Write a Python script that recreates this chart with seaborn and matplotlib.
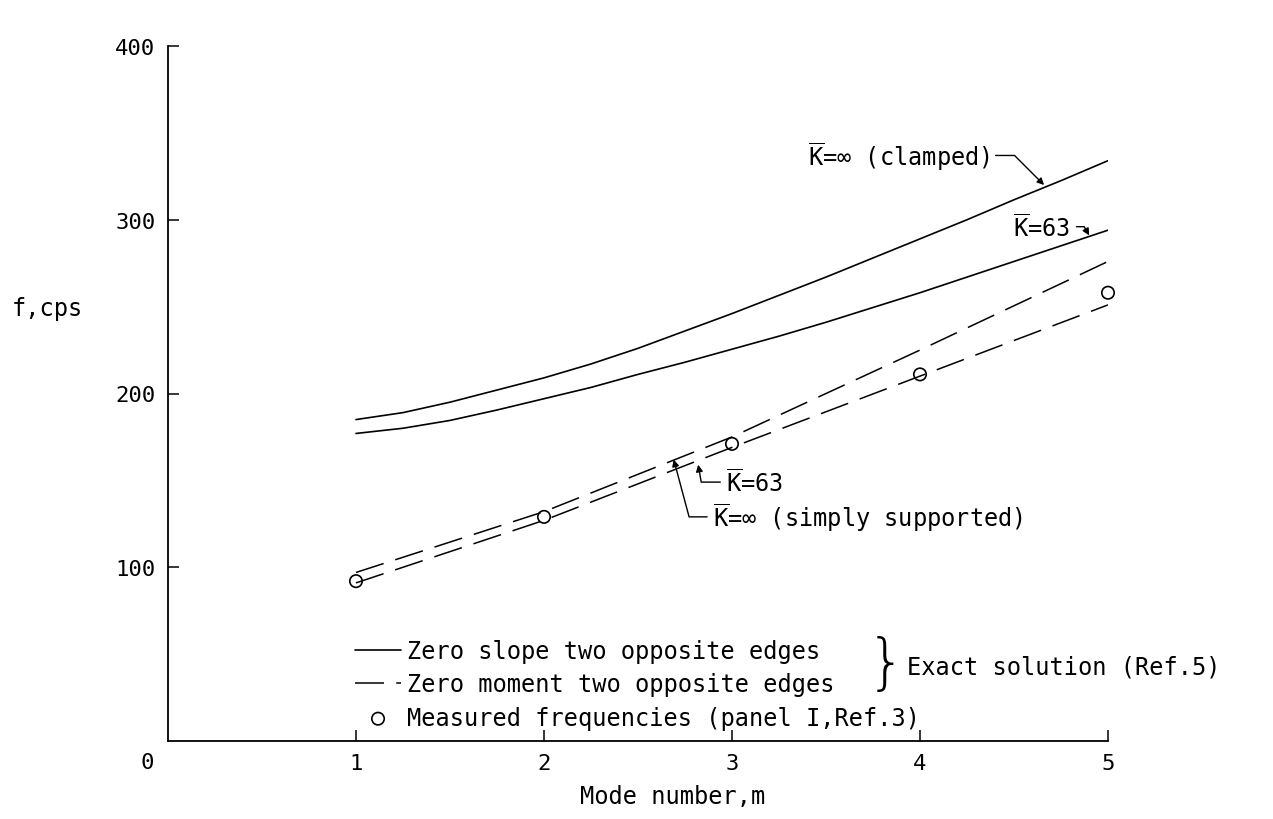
import numpy as np
import pandas as pd
import seaborn as sns
import matplotlib.pyplot as plt

# mode numbers and frequencies (cps)
mode_solid = [1, 1.25, 1.5, 1.75, 2, 2.25, 2.5, 2.75, 3, 3.25, 3.5, 3.75, 4, 4.25, 4.5, 4.75, 5]
f_clamped = [185, 189, 195, 202, 209, 217, 226, 236, 246, 256.5, 267, 278, 289, 300, 311.5, 322.5, 334]
f_slope_k63 = [177, 180, 184.5, 190.5, 197, 203.5, 211, 218, 225.5, 233, 241, 249.5, 258, 267, 276, 285, 294]

mode = [1, 2, 3, 4, 5]
f_simply = [97, 132, 175, 225, 276]
f_moment_k63 = [91, 127, 169, 210, 251]
f_measured = [92, 129, 171, 211, 258]

x_ticks = [1, 2, 3, 4, 5]
y_ticks = [100, 200, 300, 400]

sns.set_style('ticks')
plt.rcParams['font.family'] = ['DejaVu Sans Mono', 'DejaVu Sans']
plt.rcParams['mathtext.fontset'] = 'custom'
plt.rcParams['mathtext.rm'] = 'DejaVu Sans Mono'
for k in ['text.color', 'axes.labelcolor', 'xtick.color', 'ytick.color']:
    plt.rcParams[k] = 'black'
FS = 17

fig = plt.figure(figsize=(12.73, 8.2), dpi=100)
ax = fig.add_axes([168/1273, 1-742/820, (1108-168)/1273, (742-47)/820])

solid = dict(color='black', linewidth=1.2)
dash = dict(color='black', linewidth=1.1, linestyle=(0, (19, 8)))

sns.lineplot(x=mode_solid, y=f_clamped, ax=ax, label='Zero slope two opposite edges', **solid)
sns.lineplot(x=mode_solid, y=f_slope_k63, ax=ax, **solid)
sns.lineplot(x=mode, y=f_simply, ax=ax, label='Zero moment two opposite edges', **dash)
sns.lineplot(x=mode, y=f_moment_k63, ax=ax, **dash)
sns.scatterplot(x=mode, y=f_measured, ax=ax, marker='o', s=80, facecolor='none',
                edgecolor='black', linewidth=1.2, zorder=3, clip_on=False,
                label='Measured frequencies (panel I,Ref.3)')

ax.set_xlim(0, 5)
ax.set_ylim(0, 400)
ax.set_xticks(x_ticks)
ax.set_yticks(y_ticks)
ax.tick_params(direction='in', length=8, width=1.1, labelsize=16, pad=9,
               bottom=True, left=True)
for s in ['top', 'right']:
    ax.spines[s].set_visible(False)
for s in ['left', 'bottom']:
    ax.spines[s].set_linewidth(1.3)
    ax.spines[s].set_color('black')
ax.set_xlabel('')
ax.set_ylabel('')
ax.text(-0.022, -0.016, '0', transform=ax.transAxes, ha='center', va='top', fontsize=16)

fig.text(47/1273, 1-309/820, 'f,cps', ha='center', va='center', fontsize=FS)
fig.text(580/1273, 1-797/820, 'Mode number,m', ha='left', va='center', fontsize=FS)

# curve labels with leader arrows
arrow = dict(arrowstyle='-|>', color='black', lw=1.0, mutation_scale=10, shrinkA=2, shrinkB=0)
kbar = r'$\overline{\mathrm{K}}$'
ax.annotate(kbar + '=\u221e (clamped)', xy=(4.66, 320), xytext=(4.37, 337),
            ha='right', va='center', fontsize=FS,
            arrowprops=dict(connectionstyle='angle,angleA=0,angleB=135,rad=0', **arrow))
ax.annotate(kbar + '=63', xy=(4.90, 291), xytext=(4.80, 296),
            ha='right', va='center', fontsize=FS,
            arrowprops=dict(connectionstyle='angle,angleA=0,angleB=120,rad=0', **arrow))
ax.annotate(kbar + '=63', xy=(2.82, 159), xytext=(2.97, 149),
            ha='left', va='center', fontsize=FS,
            arrowprops=dict(connectionstyle='angle,angleA=180,angleB=-80,rad=0', **arrow))
ax.annotate(kbar + '=\u221e (simply supported)', xy=(2.69, 162), xytext=(2.90, 129),
            ha='left', va='center', fontsize=FS,
            arrowprops=dict(connectionstyle='angle,angleA=180,angleB=-75,rad=0', **arrow))

leg = ax.legend(loc='upper left', bbox_to_anchor=((355-168)/940, (742-640)/695),
                frameon=False, fontsize=FS, handlelength=1.95, handletextpad=0.25,
                labelspacing=0.4, borderpad=0, borderaxespad=0, markerscale=1)
ax.text(3.82, 44, '}', fontsize=44, ha='center', va='center', family='DejaVu Sans',
        fontweight='light')
ax.text(3.93, 43, 'Exact solution (Ref.5)', fontsize=FS, ha='left', va='center')

fig.savefig('out.png', dpi=100)
